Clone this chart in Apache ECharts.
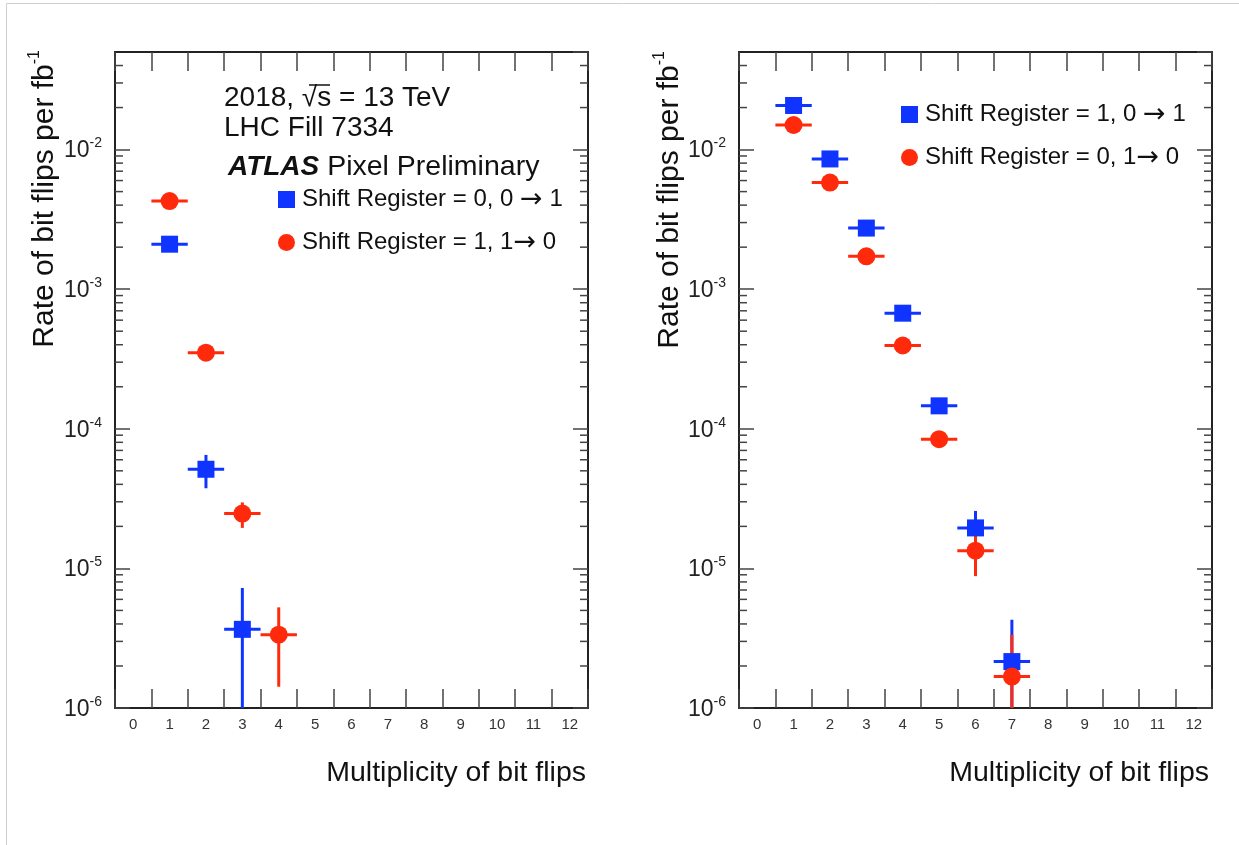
<!DOCTYPE html>
<html>
<head>
<meta charset="utf-8">
<script src="https://cdn.jsdelivr.net/npm/echarts@6/dist/echarts.min.js"></script>
<style>
html,body{margin:0;padding:0;background:#fff;}
#chart{width:1239px;height:845px;}
</style>
</head>
<body>
<div id="chart"></div>
<script>
// ---------- data ----------
const multiplicity = ['0','1','2','3','4','5','6','7','8','9','10','11','12'];
const yMin = 1e-6;
const yMax = 0.05;
const minorTickValues = [
  2e-6,3e-6,4e-6,5e-6,6e-6,7e-6,8e-6,9e-6,
  2e-5,3e-5,4e-5,5e-5,6e-5,7e-5,8e-5,9e-5,
  2e-4,3e-4,4e-4,5e-4,6e-4,7e-4,8e-4,9e-4,
  2e-3,3e-3,4e-3,5e-3,6e-3,7e-3,8e-3,9e-3,
  2e-2,3e-2,4e-2
];

// left panel
const leftBlueName = 'Shift Register = 0, 0 \u2192 1';
const leftRedName  = 'Shift Register = 1, 1\u2192 0';
const leftBlueX    = [1, 2, 3];
const leftBlueRate = [2.10e-3, 5.13e-5, 3.66e-6];
const leftBlueLow  = [2.02e-3, 3.75e-5, 1e-8];
const leftBlueHigh = [2.18e-3, 6.50e-5, 7.24e-6];
const leftRedX     = [1, 2, 3, 4];
const leftRedRate  = [4.28e-3, 3.51e-4, 2.47e-5, 3.35e-6];
const leftRedLow   = [4.16e-3, 3.17e-4, 1.95e-5, 1.42e-6];
const leftRedHigh  = [4.40e-3, 3.85e-4, 2.97e-5, 5.26e-6];

// right panel
const rightBlueName = 'Shift Register = 1, 0 \u2192 1';
const rightRedName  = 'Shift Register = 0, 1\u2192 0';
const rightX        = [1, 2, 3, 4, 5, 6, 7];
const rightBlueRate = [2.07e-2, 8.57e-3, 2.74e-3, 6.73e-4, 1.46e-4, 1.95e-5, 2.15e-6];
const rightBlueLow  = [2.05e-2, 8.45e-3, 2.68e-3, 6.45e-4, 1.33e-4, 1.47e-5, 1e-8];
const rightBlueHigh = [2.09e-2, 8.69e-3, 2.80e-3, 7.01e-4, 1.59e-4, 2.58e-5, 4.29e-6];
const rightRedRate  = [1.50e-2, 5.80e-3, 1.72e-3, 3.95e-4, 8.43e-5, 1.34e-5, 1.68e-6];
const rightRedLow   = [1.48e-2, 5.70e-3, 1.67e-3, 3.74e-4, 7.50e-5, 8.80e-6, 1e-8];
const rightRedHigh  = [1.52e-2, 5.90e-3, 1.77e-3, 4.16e-4, 9.40e-5, 1.80e-5, 3.35e-6];

// ---------- style ----------
const FONT = '"Liberation Sans", Arial, Helvetica, sans-serif';
const ARROWFONT = '"DejaVu Sans", sans-serif';
const BLUE = '#1034ff';
const RED  = '#ff2a0c';
const FRAME = '#222';
const TICK = '#444';

const grids = [
  {left: 115, top: 52, width: 473, height: 656},
  {left: 739, top: 52, width: 473, height: 656}
];

function xAxisPair(g) {
  const base = {
    gridIndex: g, type: 'category', data: multiplicity, boundaryGap: true,
    axisLine: {show: true, lineStyle: {color: FRAME, width: 2}},
    axisTick: {show: true, inside: true, length: 19, interval: 0, lineStyle: {color: TICK, width: 1.5}},
    splitLine: {show: false}
  };
  return [
    Object.assign({}, base, {position: 'bottom',
      axisLabel: {show: true, interval: 0, fontSize: 15, color: '#333', margin: 9, fontFamily: FONT}}),
    Object.assign({}, base, {position: 'top', axisLabel: {show: false}})
  ];
}
function yLabel(v) {
  const e = Math.log10(v);
  const r = Math.round(e);
  if (Math.abs(e - r) > 0.01) return '';
  return '{b|10}{e|' + r + '}';
}
function yAxisPair(g) {
  const base = {
    gridIndex: g, type: 'log', logBase: 10, min: yMin, max: yMax,
    axisLine: {show: true, lineStyle: {color: FRAME, width: 2}},
    axisTick: {show: true, inside: true, length: 15, lineStyle: {color: TICK, width: 1.5}},
    splitLine: {show: false}, minorTick: {show: false}
  };
  return [
    Object.assign({}, base, {position: 'left',
      axisLabel: {show: true, showMaxLabel: false, margin: 13, formatter: yLabel,
        fontSize: 23, color: '#222', fontFamily: FONT,
        rich: {
          b: {fontSize: 23, color: '#222', fontFamily: FONT, verticalAlign: 'bottom', lineHeight: 26},
          e: {fontSize: 14, color: '#222', fontFamily: FONT, verticalAlign: 'top', lineHeight: 26}
        }}}),
    Object.assign({}, base, {position: 'right', axisLabel: {show: false}})
  ];
}

function errSeries(name, color, xIdx, yIdx, xs, rate, lo, hi) {
  return {
    name: name, type: 'custom', xAxisIndex: xIdx, yAxisIndex: yIdx, clip: true, silent: true,
    data: xs.map((x, i) => [x, rate[i], lo[i], hi[i]]),
    encode: {x: 0, y: 1},
    renderItem: function (params, api) {
      const x = api.value(0);
      const c = api.coord([x, api.value(1)]);
      const pl = api.coord([x, api.value(2)]);
      const ph = api.coord([x, api.value(3)]);
      const w = api.size([1, 0])[0];
      const st = {stroke: color, lineWidth: 3};
      return {type: 'group', children: [
        {type: 'line', shape: {x1: c[0] - w / 2, y1: c[1], x2: c[0] + w / 2, y2: c[1]}, style: st},
        {type: 'line', shape: {x1: c[0], y1: ph[1], x2: c[0], y2: pl[1]}, style: st}
      ]};
    }
  };
}
function markerSeries(name, color, symbol, size, xIdx, yIdx, xs, rate) {
  return {
    name: name, type: 'scatter', xAxisIndex: xIdx, yAxisIndex: yIdx,
    symbol: symbol, symbolSize: size, silent: true,
    itemStyle: {color: color, opacity: 1},
    data: xs.map((x, i) => [x, rate[i]])
  };
}
function minorTickSeries(xIdx, yIdx) {
  return {
    type: 'custom', xAxisIndex: xIdx, yAxisIndex: yIdx, silent: true, clip: false,
    data: minorTickValues.map(v => [0, v]),
    encode: {x: 0, y: 1},
    renderItem: function (params, api) {
      const cs = params.coordSys;
      const y = api.coord([0, api.value(1)])[1];
      const st = {stroke: TICK, lineWidth: 1.5};
      return {type: 'group', children: [
        {type: 'line', shape: {x1: cs.x, y1: y, x2: cs.x + 8, y2: y}, style: st},
        {type: 'line', shape: {x1: cs.x + cs.width - 8, y1: y, x2: cs.x + cs.width, y2: y}, style: st}
      ]};
    }
  };
}

function legendFormatter(name) {
  const parts = name.split('\u2192');
  return '{t|' + parts[0] + '}{a|\u2192}{t|' + parts[1] + '}';
}
const legendText = {
  fontSize: 24, color: '#111', fontFamily: FONT, lineHeight: 26, padding: [0, 0, 0, 2],
  rich: {
    t: {fontSize: 24, color: '#111', fontFamily: FONT, lineHeight: 26},
    a: {fontSize: 27, color: '#111', fontFamily: ARROWFONT, lineHeight: 26}
  }
};

const option = {
  backgroundColor: '#fff',
  animation: false,
  grid: grids,
  xAxis: [].concat(xAxisPair(0), xAxisPair(1)),
  yAxis: [].concat(yAxisPair(0), yAxisPair(1)),
  legend: [
    {orient: 'vertical', left: 273, top: 181, itemWidth: 17, itemHeight: 17, itemGap: 16,
     selectedMode: false, textStyle: legendText, formatter: legendFormatter,
     data: [{name: leftBlueName, icon: 'rect'}, {name: leftRedName, icon: 'circle'}]},
    {orient: 'vertical', left: 896, top: 96, itemWidth: 17, itemHeight: 17, itemGap: 16,
     selectedMode: false, textStyle: legendText, formatter: legendFormatter,
     data: [{name: rightBlueName, icon: 'rect'}, {name: rightRedName, icon: 'circle'}]}
  ],
  series: [
    minorTickSeries(0, 0),
    minorTickSeries(2, 2),
    errSeries('err-l-blue', BLUE, 0, 0, leftBlueX, leftBlueRate, leftBlueLow, leftBlueHigh),
    markerSeries(leftBlueName, BLUE, 'rect', 17, 0, 0, leftBlueX, leftBlueRate),
    errSeries('err-l-red', RED, 0, 0, leftRedX, leftRedRate, leftRedLow, leftRedHigh),
    markerSeries(leftRedName, RED, 'circle', 18, 0, 0, leftRedX, leftRedRate),
    errSeries('err-r-blue', BLUE, 2, 2, rightX, rightBlueRate, rightBlueLow, rightBlueHigh),
    markerSeries(rightBlueName, BLUE, 'rect', 17, 2, 2, rightX, rightBlueRate),
    errSeries('err-r-red', RED, 2, 2, rightX, rightRedRate, rightRedLow, rightRedHigh),
    markerSeries(rightRedName, RED, 'circle', 18, 2, 2, rightX, rightRedRate)
  ],
  graphic: [
    {type: 'rect', shape: {x: 6.5, y: 3.5, width: 1250, height: 860}, style: {fill: 'none', stroke: '#cfcfcf', lineWidth: 1}, silent: true},
    // left header
    {type: 'text', x: 224, y: 98, style: {text: '2018, \u221As = 13 TeV', font: '28px ' + FONT, fill: '#111', verticalAlign: 'middle'}},
    {type: 'line', shape: {x1: 309, y1: 85, x2: 330, y2: 85}, style: {stroke: '#111', lineWidth: 1.5}, silent: true},
    {type: 'text', x: 224, y: 128, style: {text: 'LHC Fill 7334', font: '28px ' + FONT, fill: '#111', verticalAlign: 'middle'}},
    {type: 'text', x: 228, y: 167, style: {text: '{a|ATLAS}{b| Pixel Preliminary}', verticalAlign: 'middle',
      rich: {a: {fontSize: 28, fontWeight: 'bold', fontStyle: 'italic', fontFamily: FONT, fill: '#111'},
             b: {fontSize: 28.5, fontFamily: FONT, fill: '#111'}}}},
    // axis titles
    {type: 'text', x: 43, y: 50, rotation: Math.PI / 2, style: {text: '{a|Rate of bit flips per fb}{s|-1}', align: 'right', verticalAlign: 'middle',
      rich: {a: {fontSize: 30, fontFamily: FONT, fill: '#111', verticalAlign: 'bottom', lineHeight: 33},
             s: {fontSize: 16, fontFamily: FONT, fill: '#111', verticalAlign: 'top', lineHeight: 33}}}},
    {type: 'text', x: 668, y: 51, rotation: Math.PI / 2, style: {text: '{a|Rate of bit flips per fb}{s|-1}', align: 'right', verticalAlign: 'middle',
      rich: {a: {fontSize: 30, fontFamily: FONT, fill: '#111', verticalAlign: 'bottom', lineHeight: 33},
             s: {fontSize: 16, fontFamily: FONT, fill: '#111', verticalAlign: 'top', lineHeight: 33}}}},
    {type: 'text', x: 586, y: 773, style: {text: 'Multiplicity of bit flips', font: '28.5px ' + FONT, fill: '#111', align: 'right', verticalAlign: 'middle'}},
    {type: 'text', x: 1209, y: 773, style: {text: 'Multiplicity of bit flips', font: '28.5px ' + FONT, fill: '#111', align: 'right', verticalAlign: 'middle'}}
  ]
};

const chart = echarts.init(document.getElementById('chart'), null, {renderer: 'canvas'});
chart.setOption(option);
</script>
</body>
</html>
